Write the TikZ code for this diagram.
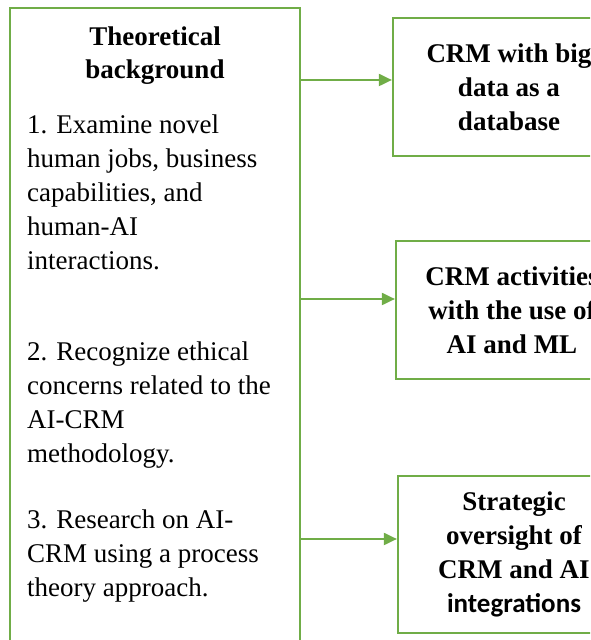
\documentclass[tikz,border=0pt]{standalone}
\usepackage{fontspec}
\setmainfont{Liberation Serif}
\newfontfamily\calibrifont{Carlito}
\usetikzlibrary{arrows.meta}
\definecolor{boxgreen}{RGB}{112,173,71}
\tikzset{
	frame/.style={draw=boxgreen,line width=2.2pt,inner sep=0pt},
	topic/.style={frame,minimum width=232pt,minimum height=138pt,align=center,
		font=\fontsize{27}{34}\selectfont\bfseries},
	item/.style={anchor=north west,inner sep=0pt,align=left,font=\fontsize{27}{34}\selectfont},
	link/.style={draw=boxgreen,line width=2pt,-{Triangle[length=13pt,width=12pt]}}
}
\begin{document}
\begin{tikzpicture}[x=1pt,y=1pt]
		\clip (0,0) rectangle (590,640);
		\node [frame,minimum width=290pt,minimum height=700pt] (bg) at (155,282) {};
		\node [anchor=north,inner sep=0pt,align=center,font=\fontsize{27}{33}\selectfont\bfseries] (title) at (155,613.5) {Theoretical\\background};
		\node [item] (first) at (27,525.5) {1. Examine novel\\human jobs, business\\capabilities, and\\human-AI\\interactions.};
		\node [item] (second) at (27,298.5) {2. Recognize ethical\\concerns related to the\\AI-CRM\\methodology.};
		\node [item] (third) at (27,130.5) {3. Research on AI-\\CRM using a process\\theory approach.};
		\node [topic] (bigdata) at (509,553) {CRM with big\\data as a\\database};
		\node [topic] (aiml) at (512,330) {CRM activities\\with the use of\\AI and ML};
		\node [topic,minimum height=157pt] (oversight) at (514,85.5) {Strategic\\oversight of\\CRM and AI\\{\calibrifont\bfseries integrations}};
		\coordinate (r1) at (0,560);
		\coordinate (r2) at (0,341);
		\coordinate (r3) at (0,101);
		\draw [link] (bg.east |- r1) -- (bigdata.west |- r1);
		\draw [link] (bg.east |- r2) -- (aiml.west |- r2);
		\draw [link] (bg.east |- r3) -- (oversight.west |- r3);
	\end{tikzpicture}
\end{document}
